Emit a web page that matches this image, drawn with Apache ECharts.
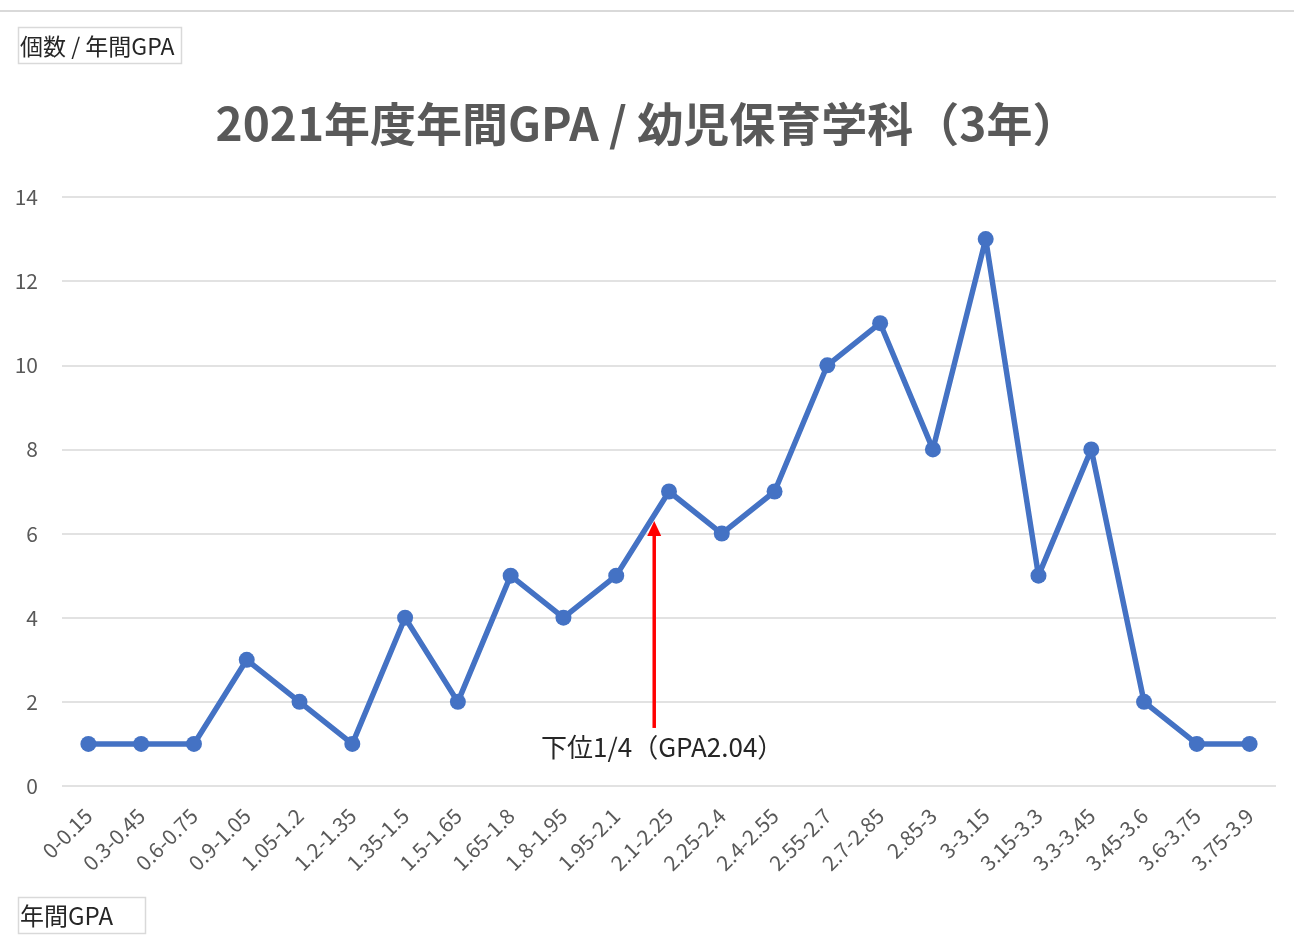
<!DOCTYPE html>
<html>
<head>
<meta charset="utf-8">
<script src="https://cdn.jsdelivr.net/npm/echarts@6/dist/echarts.min.js"></script>
<style>
html,body{margin:0;padding:0;background:#fff;}
#main{width:1294px;height:941px;}
</style>
</head>
<body>
<div id="main"></div>
<script>
const categories = ['0-0.15','0.3-0.45','0.6-0.75','0.9-1.05','1.05-1.2','1.2-1.35','1.35-1.5','1.5-1.65','1.65-1.8','1.8-1.95','1.95-2.1','2.1-2.25','2.25-2.4','2.4-2.55','2.55-2.7','2.7-2.85','2.85-3','3-3.15','3.15-3.3','3.3-3.45','3.45-3.6','3.6-3.75','3.75-3.9'];
const counts = [1,1,1,3,2,1,4,2,5,4,5,7,6,7,10,11,8,13,5,8,2,1,1];
const yTicks = {min:0, max:14, interval:2};
const titleText = '2021年度年間GPA / 幼児保育学科（3年）';
const yName = '個数 / 年間GPA';
const xName = '年間GPA';
const annotationText = '下位1/4（GPA2.04）';
const annotationCategoryPos = 10.72; // fractional category index
const annotationFrom = 1.38;
const annotationTo = 6.3;

const FONT = "'Noto Sans CJK JP', 'Noto Sans', sans-serif";
const chart = echarts.init(document.getElementById('main'));
chart.setOption({
  backgroundColor:'#fff',
  animation:false,
  title:{
    text:titleText, left:'center', top:96,
    textStyle:{fontFamily:FONT, fontSize:46, fontWeight:'bold', color:'#595959'}
  },
  grid:{left:62, top:197, width:1214, height:589, containLabel:false},
  xAxis:{
    type:'category', data:categories, boundaryGap:true,
    axisLine:{show:false}, axisTick:{show:false},
    axisLabel:{rotate:45, interval:0, fontFamily:FONT, fontSize:21, color:'#595959', margin:26}
  },
  yAxis:{
    type:'value', min:yTicks.min, max:yTicks.max, interval:yTicks.interval,
    axisLine:{show:false}, axisTick:{show:false},
    axisLabel:{fontFamily:FONT, fontSize:21, color:'#595959', margin:24},
    splitLine:{lineStyle:{color:'#d9d9d9', width:1.5}}
  },
  series:[{
    type:'line', data:counts, symbol:'circle', symbolSize:16,
    lineStyle:{color:'#4472C4', width:5.5},
    itemStyle:{color:'#4472C4'}
  }]
});

function px(cat, val){
  const a = chart.convertToPixel({xAxisIndex:0}, Math.floor(cat));
  const b = chart.convertToPixel({xAxisIndex:0}, Math.floor(cat)+1);
  const x = a + (b-a)*(cat-Math.floor(cat));
  const y = chart.convertToPixel({yAxisIndex:0}, val);
  return [x,y];
}
const p0 = px(annotationCategoryPos, annotationFrom);
const p1 = px(annotationCategoryPos, annotationTo);
chart.setOption({
  graphic:[
    {type:'line', shape:{x1:0,y1:11,x2:1294,y2:11}, style:{stroke:'#d9d9d9', lineWidth:2}},
    {type:'rect', shape:{x:18.5,y:27.5,width:163,height:36}, style:{fill:'#fff', stroke:'#d9d9d9', lineWidth:1.5}},
    {type:'text', x:20, y:46, style:{text:yName, font:"23px "+FONT, fill:'#262626', verticalAlign:'middle'}},
    {type:'rect', shape:{x:18.5,y:897.5,width:127,height:36}, style:{fill:'#fff', stroke:'#d9d9d9', lineWidth:1.5}},
    {type:'text', x:20, y:916, style:{text:xName, font:"24px "+FONT, fill:'#262626', verticalAlign:'middle'}},
    {type:'line', shape:{x1:p0[0], y1:p0[1], x2:p1[0], y2:p1[1]+14}, style:{stroke:'#ff0000', lineWidth:3.5}},
    {type:'polygon', shape:{points:[[p1[0],p1[1]],[p1[0]-7,p1[1]+15],[p1[0]+7,p1[1]+15]]}, style:{fill:'#ff0000'}},
    {type:'text', x:p0[0]+8, y:p0[1]+19, style:{text:annotationText, font:"26px "+FONT, fill:'#262626', align:'center', verticalAlign:'middle'}}
  ]
});
</script>
</body>
</html>
